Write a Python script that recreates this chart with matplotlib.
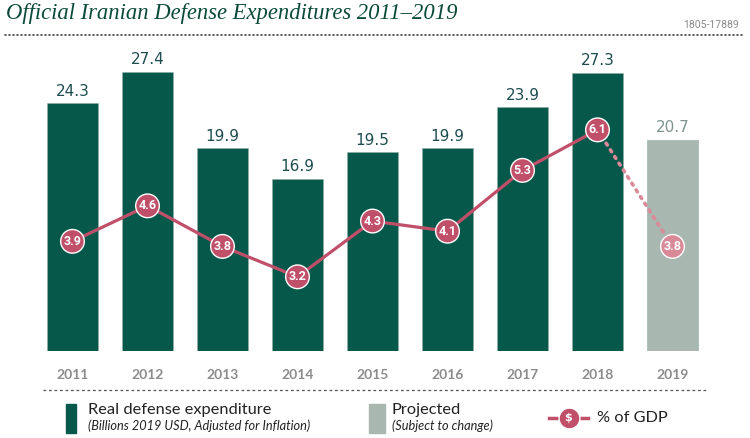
import matplotlib
matplotlib.use('Agg')
import matplotlib.pyplot as plt
from matplotlib.lines import Line2D
from matplotlib.patches import Rectangle

# data
years = ['2011', '2012', '2013', '2014', '2015', '2016', '2017', '2018', '2019']
spending = [24.3, 27.4, 19.9, 16.9, 19.5, 19.9, 23.9, 27.3, 20.7]
gdp_share = [3.9, 4.6, 3.8, 3.2, 4.3, 4.1, 5.3, 6.1, 3.8]
projected = [False] * 8 + [True]

green = '#06584a'
grey_bar = '#a9b7b1'
rose = '#c0506a'
rose_light = '#d88a98'
label_col = '#1d4d4f'
year_col = '#8c8c8c'

W, H = 750, 438
fig = plt.figure(figsize=(W / 100, H / 100), dpi=100)


def fx(px):
    return px / W


def fy(py):
    return 1 - py / H


ax = fig.add_axes([0, fy(351), 1, (351 - 30) / H])
ax.set_xlim((0 - 72.5) / 75, (W - 72.5) / 75)
ax.set_ylim(0, 31.5)
ax.axis('off')

x = list(range(len(years)))
bar_colors = [grey_bar if p else green for p in projected]
ax.bar(x, spending, width=0.69, color=bar_colors, edgecolor='#8fb0a7', linewidth=0.4)
for i, v in enumerate(spending):
    ax.text(i, v + 0.45, f'{v}', ha='center', va='bottom', fontsize=11,
            color='#7f9490' if projected[i] else label_col, family='DejaVu Sans')

for i, yr in enumerate(years):
    fig.text(fx(72.5 + 75 * i), fy(375), yr, ha='center', va='center',
             fontsize=10, fontweight='bold', color=year_col, family='Lato')

# % of GDP on its own scale
ax2 = ax.twinx()
ax2.set_ylim(1.736, 8.07)
ax2.axis('off')
ax2.plot(x[:8], gdp_share[:8], color=rose, lw=2.3, zorder=2, solid_capstyle='round')
ax2.plot(x[7:9], gdp_share[7:9], color=rose_light, lw=2.6, zorder=2,
         linestyle=(0, (0.6, 1.6)), dash_capstyle='round')
mcols = [rose_light if p else rose for p in projected]
ax2.scatter(x, gdp_share, s=290, c=mcols, edgecolors='white', linewidths=1.0, zorder=3)
for i, v in enumerate(gdp_share):
    ax2.text(i, v, f'{v}', ha='center', va='center', fontsize=9, fontweight='bold',
             color='white', family='Roboto', zorder=4)

# title and header
fig.text(fx(6), fy(14), 'Official Iranian Defense Expenditures 2011\u20132019',
         ha='left', va='center', fontsize=16.3, style='italic', color='#0b4a3a',
         family='Liberation Serif')
fig.text(fx(739), fy(25), '1805-17889', ha='right', va='center', fontsize=7.5,
         color='#8a8a8a', family='Roboto')
fig.add_artist(Line2D([fx(5), fx(745)], [fy(35), fy(35)], color='#444444', lw=1.2,
                      linestyle=(0, (0.6, 1.8)), dash_capstyle='round'))
fig.add_artist(Line2D([fx(43), fx(707)], [fy(390), fy(390)], color='#555555', lw=0.9,
                      linestyle=(0, (2.2, 2.2))))

# legend
fig.add_artist(Rectangle((fx(66), fy(433)), 10 / W, 29 / H, color=green,
                         transform=fig.transFigure))
fig.text(fx(88), fy(410), 'Real defense expenditure', ha='left', va='center',
         fontsize=11.8, color='#222222', family='Lato')
fig.text(fx(88), fy(426), '(Billions 2019 USD, Adjusted for Inflation)', ha='left',
         va='center', fontsize=9.2, style='italic', color='#222222', family='Lato')
fig.add_artist(Rectangle((fx(369), fy(433)), 16 / W, 29 / H, color=grey_bar,
                         transform=fig.transFigure))
fig.text(fx(392), fy(410), 'Projected', ha='left', va='center',
         fontsize=11.8, color='#222222', family='Lato')
fig.text(fx(392), fy(426), '(Subject to change)', ha='left',
         va='center', fontsize=9.2, style='italic', color='#222222', family='Lato')
fig.add_artist(Line2D([fx(549), fx(588)], [fy(418), fy(418)], color=rose, lw=2.5))
fig.add_artist(Line2D([fx(568.5)], [fy(418)], marker='o', markersize=15,
                      markerfacecolor=rose, markeredgecolor='white', markeredgewidth=1))
fig.text(fx(568.5), fy(418), '$', ha='center', va='center', fontsize=8, fontweight='bold',
         color='white', family='DejaVu Sans')
fig.text(fx(597), fy(418), '% of GDP', ha='left', va='center',
         fontsize=11.8, color='#222222', family='Lato')

fig.savefig('out.png', dpi=100)
